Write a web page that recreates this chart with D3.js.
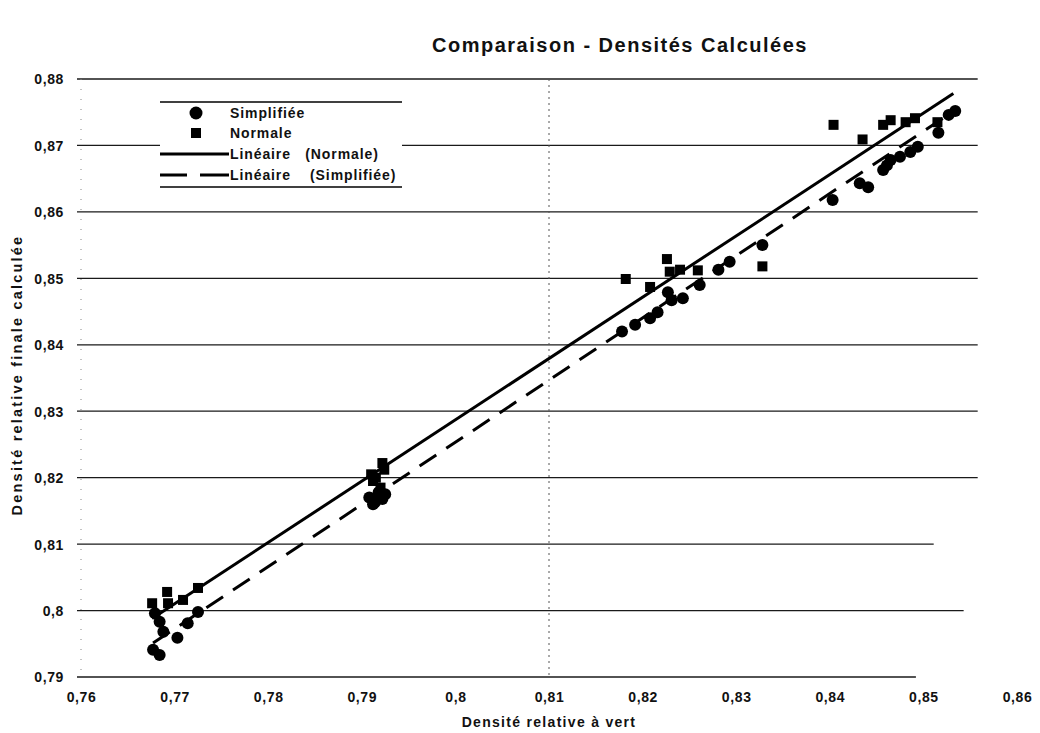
<!DOCTYPE html>
<html><head><meta charset="utf-8">
<script src="https://cdn.jsdelivr.net/npm/d3@7"></script>
<style>
body{margin:0;background:#fff;}
text{font-family:"Liberation Sans",Arial,sans-serif;font-weight:bold;fill:#111;}
</style></head>
<body><svg id="c" width="1040" height="733"></svg>
<script>
// ---- data ----
const xTicks = [0.76,0.77,0.78,0.79,0.80,0.81,0.82,0.83,0.84,0.85,0.86];
const yTicks = [0.79,0.80,0.81,0.82,0.83,0.84,0.85,0.86,0.87,0.88];
const normX = [0.7676,0.7692,0.7693,0.7709,0.7725,0.7910,0.7912,0.7915,0.7920,0.7922,0.7924,0.8182,0.8208,0.8226,0.8229,0.8240,0.8259,0.8328,0.8404,0.8435,0.8457,0.8465,0.8481,0.8491,0.8515];
const normY = [0.8011,0.8028,0.8011,0.8016,0.8034,0.8205,0.8195,0.8200,0.8185,0.8222,0.8212,0.8499,0.8487,0.8529,0.8510,0.8513,0.8512,0.8518,0.8731,0.8709,0.8731,0.8738,0.8735,0.8741,0.8735];
const simpX = [0.7677,0.7679,0.7684,0.7684,0.7688,0.7703,0.7714,0.7725,0.7908,0.7912,0.7914,0.7918,0.7922,0.7925,0.8178,0.8192,0.8208,0.8216,0.8227,0.8231,0.8243,0.8261,0.8281,0.8293,0.8328,0.8403,0.8432,0.8441,0.8457,0.8461,0.8465,0.8475,0.8486,0.8494,0.8516,0.8527,0.8534];
const simpY = [0.7941,0.7996,0.7983,0.7933,0.7968,0.7959,0.7981,0.7998,0.8170,0.8160,0.8163,0.8178,0.8168,0.8175,0.8420,0.8430,0.8440,0.8449,0.8479,0.8467,0.8470,0.8490,0.8513,0.8525,0.8550,0.8618,0.8643,0.8637,0.8663,0.8670,0.8678,0.8683,0.8690,0.8698,0.8719,0.8746,0.8752];
const trendNormX = [0.7676,0.8532];
const trendNormY = [0.7988,0.8778];
const trendSimpX = [0.7677,0.8534];
const trendSimpY = [0.7951,0.8753];
const gridEndX = [0.8492,0.8543,0.8511,0.8558,0.8558,0.8558,0.8558,0.8558,0.8558,0.8558];
const legendLabels = ["Simplifiée","Normale","Linéaire   (Normale)","Linéaire    (Simplifiée)"];

const fmt = v => d3.format(".2~f")(v).replace(".", ",");

const svg = d3.select("#c");
const x = d3.scaleLinear().domain([0.76,0.86]).range([81,1017]);
const y = d3.scaleLinear().domain([0.79,0.88]).range([677,79]);

// title
svg.append("text").attr("x",620).attr("y",52).attr("text-anchor","middle")
  .style("font-size","20px").style("letter-spacing","1.5px").text("Comparaison - Densités Calculées");

// gridlines
svg.append("g").selectAll("line").data(d3.zip(yTicks,gridEndX)).join("line")
  .attr("x1",77).attr("x2",d=>x(d[1]))
  .attr("y1",d=>y(d[0])).attr("y2",d=>y(d[0]))
  .attr("stroke","#1a1a1a").attr("stroke-width",1.3);

// dotted y axis and vertical line at 0.81
svg.append("line").attr("x1",x(0.76)).attr("x2",x(0.76)).attr("y1",y(0.88)).attr("y2",y(0.79))
  .attr("stroke","#888").attr("stroke-width",1).attr("stroke-dasharray","1,9");
svg.append("line").attr("x1",x(0.81)).attr("x2",x(0.81)).attr("y1",y(0.88)).attr("y2",y(0.79))
  .attr("stroke","#555").attr("stroke-width",1).attr("stroke-dasharray","2,4");

// axes labels
const yAxis = d3.axisLeft(y).tickValues(yTicks).tickFormat(fmt).tickSize(0).tickPadding(0);
const gy = svg.append("g").attr("transform","translate(64,0)").call(yAxis);
gy.select(".domain").remove();
gy.selectAll("text").style("font-size","14px").style("letter-spacing","0.6px").attr("dy","0.35em").attr("fill","#111");

const xAxis = d3.axisBottom(x).tickValues(xTicks).tickFormat(fmt).tickSize(0).tickPadding(0);
const gx = svg.append("g").attr("transform","translate(0,692)").call(xAxis);
gx.select(".domain").remove();
gx.selectAll("text").style("font-size","14px").style("letter-spacing","0.6px").attr("dy","0.7em").attr("fill","#111");

// axis titles
svg.append("text").attr("x",549).attr("y",727).attr("text-anchor","middle")
  .style("font-size","14px").style("letter-spacing","1.3px").text("Densité relative à vert");
svg.append("text").attr("transform","translate(22,375) rotate(-90)").attr("text-anchor","middle")
  .style("font-size","14.5px").style("letter-spacing","2.2px").text("Densité relative finale calculée");

// trend lines
const line = d3.line().x(d=>x(d[0])).y(d=>y(d[1]));
svg.append("path").datum(d3.zip(trendNormX,trendNormY)).attr("d",line)
  .attr("stroke","#000").attr("stroke-width",3).attr("fill","none");
svg.append("path").datum(d3.zip(trendSimpX,trendSimpY)).attr("d",line)
  .attr("stroke","#000").attr("stroke-width",3).attr("fill","none").attr("stroke-dasharray","20,12");

// points
svg.append("g").selectAll("rect").data(d3.zip(normX,normY)).join("rect")
  .attr("x",d=>x(d[0])-5).attr("y",d=>y(d[1])-5).attr("width",10).attr("height",10).attr("fill","#000");
svg.append("g").selectAll("circle").data(d3.zip(simpX,simpY)).join("circle")
  .attr("cx",d=>x(d[0])).attr("cy",d=>y(d[1])).attr("r",6).attr("fill","#000");

// legend
const lg = svg.append("g");
lg.append("rect").attr("x",160).attr("y",102).attr("width",242).attr("height",85).attr("fill","#fff");
lg.append("line").attr("x1",160).attr("x2",402).attr("y1",102).attr("y2",102).attr("stroke","#000").attr("stroke-width",1.5);
lg.append("line").attr("x1",160).attr("x2",402).attr("y1",187).attr("y2",187).attr("stroke","#000").attr("stroke-width",1.5);
const rowsY = [113,133,154,175];
lg.append("circle").attr("cx",196).attr("cy",rowsY[0]).attr("r",6.5).attr("fill","#000");
lg.append("rect").attr("x",191).attr("y",rowsY[1]-5).attr("width",10).attr("height",10).attr("fill","#000");
lg.append("line").attr("x1",160).attr("x2",229).attr("y1",rowsY[2]).attr("y2",rowsY[2]).attr("stroke","#000").attr("stroke-width",3);
lg.append("line").attr("x1",160).attr("x2",229).attr("y1",rowsY[3]).attr("y2",rowsY[3]).attr("stroke","#000").attr("stroke-width",3).attr("stroke-dasharray","27,13,29");
lg.selectAll("text.l").data(legendLabels).join("text").attr("class","l")
  .attr("x",230).attr("y",(d,i)=>rowsY[i]).attr("dy","0.35em")
  .style("font-size","14px").style("letter-spacing","0.9px").attr("xml:space","preserve").text(d=>d);
</script></body></html>
